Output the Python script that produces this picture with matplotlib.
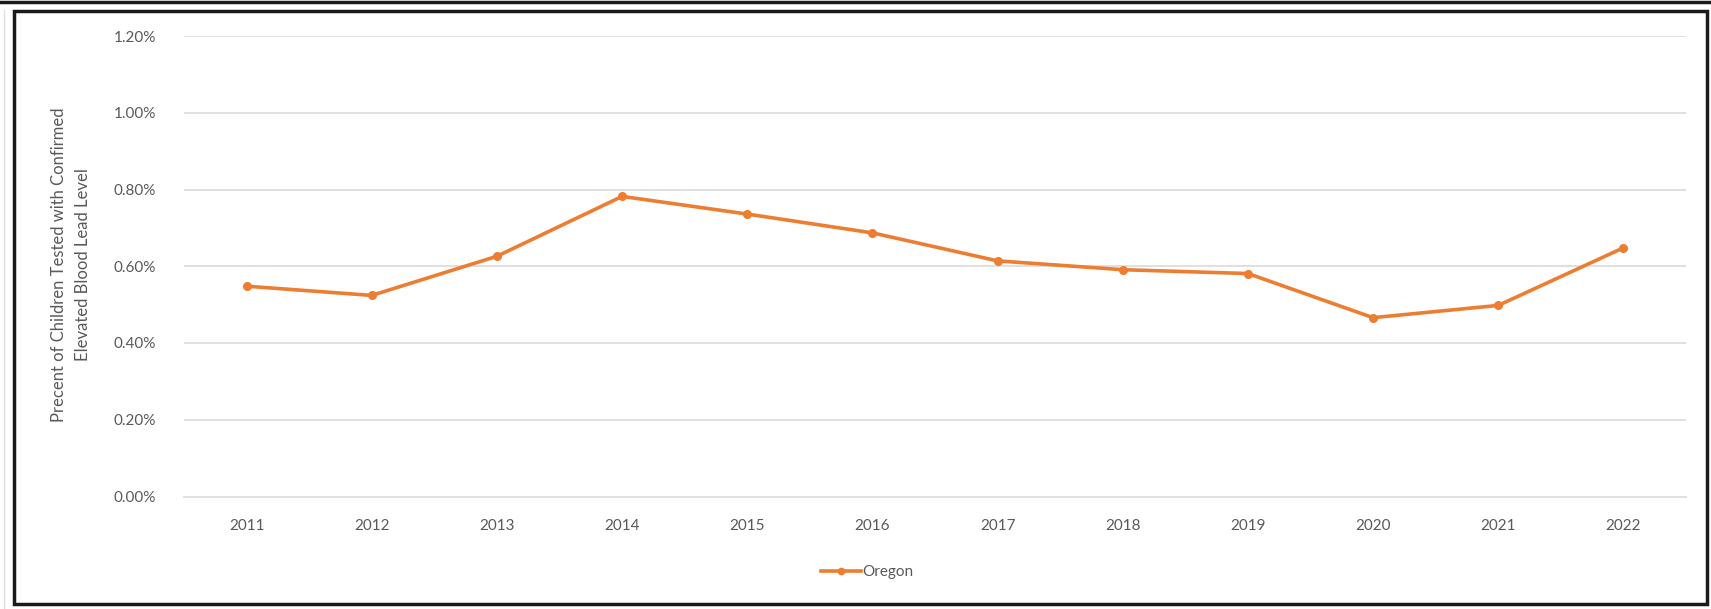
import matplotlib
matplotlib.use("Agg")
from matplotlib import pyplot as plt
from matplotlib.patches import Rectangle
from matplotlib.lines import Line2D
from matplotlib.ticker import FuncFormatter

years = ['2011', '2012', '2013', '2014', '2015', '2016',
         '2017', '2018', '2019', '2020', '2021', '2022']
oregon = [0.548, 0.524, 0.626, 0.782, 0.736, 0.687,
          0.614, 0.591, 0.581, 0.466, 0.498, 0.648]
yticks = [0.0, 0.2, 0.4, 0.6, 0.8, 1.0, 1.2]

W, H = 1711, 609
plt.rcParams['font.family'] = ['Lato', 'DejaVu Sans']
grey = '#595959'
orange = '#ED7D31'

fig = plt.figure(figsize=(W / 100, H / 100), dpi=100)
fig.patch.set_facecolor('white')

def fx(px):
    return px / W

def fy(py):
    return 1 - py / H

ax = fig.add_axes([fx(184), fy(496.5), fx(1686) - fx(184), fy(36) - fy(496.5)])
x = range(len(years))
ax.plot(x, oregon, color=orange, lw=2.6, marker='o', ms=5.5, label='Oregon', zorder=3)

ax.set_xlim(-0.5, len(years) - 0.5)
ax.set_ylim(0, 1.2)
ax.set_yticks(yticks)
ax.yaxis.set_major_formatter(FuncFormatter(lambda v, p: f'{v:.2f}%'))
ax.set_xticks(list(x))
ax.set_xticklabels(years)
ax.grid(axis='y', color='#E0E0E0', lw=1.4)
ax.set_axisbelow(True)
for s in ['top', 'right', 'left']:
    ax.spines[s].set_visible(False)
ax.spines['bottom'].set_color('#E0E0E0')
ax.spines['bottom'].set_linewidth(1.4)
ax.tick_params(axis='both', length=0, labelsize=11, labelcolor=grey)
ax.tick_params(axis='y', pad=20)
ax.tick_params(axis='x', pad=16)

fig.text(fx(71), fy(265), 'Precent of Children Tested with Confirmed\nElevated Blood Lead Level',
         rotation=90, ha='center', va='center', multialignment='center',
         fontsize=12, color=grey, linespacing=1.6)

handle = Line2D([], [], color=orange, lw=2.6, marker='o', ms=4.5)
fig.legend([handle], ['Oregon'], loc='center', bbox_to_anchor=(fx(867), fy(572)),
           frameon=False, fontsize=11, labelcolor=grey, handlelength=2.6,
           handletextpad=0.1)

# chart frame from the screenshot
fig.add_artist(Rectangle((fx(14), fy(604)), fx(1707) - fx(14), fy(11) - fy(604),
                         transform=fig.transFigure, fill=False, ec='#1a1a1a', lw=2.5))
fig.add_artist(Line2D([0, 1], [fy(1.5), fy(1.5)], transform=fig.transFigure,
                      color='#1a1a1a', lw=2.5))
fig.add_artist(Line2D([fx(4), fx(4)], [0, fy(10)], transform=fig.transFigure,
                      color='#e0e0e0', lw=1))

fig.savefig('out.png', dpi=100)
